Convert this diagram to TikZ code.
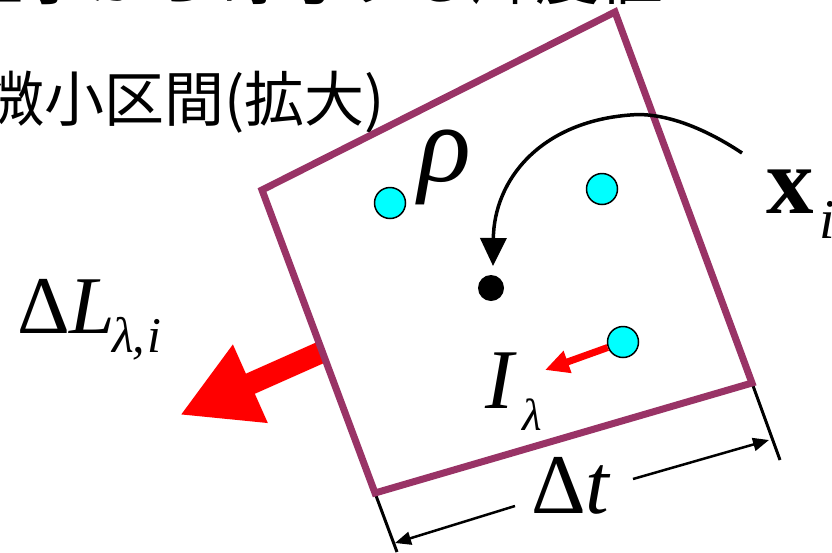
\documentclass[tikz,border=0pt]{standalone}
\usepackage{fontspec}
\setmainfont{Liberation Serif}
\newfontfamily\jfont{Noto Sans CJK JP}
\usetikzlibrary{arrows.meta}
\definecolor{boxpurple}{RGB}{153,51,102}
\definecolor{dotcyan}{RGB}{0,255,255}
\begin{document}
\begin{tikzpicture}[x=1pt,y=-1pt,
  cdot/.style={circle,draw=black,line width=1.5pt,fill=dotcyan,minimum size=31pt,inner sep=0pt},
  bdot/.style={circle,fill=black,minimum size=26pt,inner sep=0pt},
  boxline/.style={draw=boxpurple,line width=7pt,line join=miter},
  extline/.style={draw=black,line width=3pt},
  dimarrow/.style={draw=black,line width=2.5pt,-{Triangle[length=16pt,width=13pt]}},
  lbl/.style={inner sep=0pt,anchor=base west},
]
\useasboundingbox (0,0) rectangle (832,552);
\clip (0,0) rectangle (832,552);

% clipped title and subtitle
\node[lbl] (title) at (-41,-1) {\jfont\fontsize{64}{64}\selectfont 粒子から寄与する輝度値};
\node[lbl] (sub) at (-16,121) {\jfont\fontsize{60}{60}\selectfont 微小区間(拡大)};

% big red outgoing arrow
\coordinate (rs) at (324,351);
\coordinate (rt) at (180,415);
\draw[red, line width=22pt, -{Triangle[length=77pt,width=80pt]}] (rs) -- (rt);

% extension lines
\coordinate (A) at (615,12);
\coordinate (B) at (262,190);
\coordinate (C) at (375,493);
\coordinate (D) at (752,383);
\coordinate (C2) at (397,552);
\coordinate (D2) at (780,460);
\draw[extline] (C) -- (C2);
\draw[extline] (D) -- (D2);

% box
\draw[boxline] (A) -- (B) -- (C) -- (D) -- cycle;

% particles
\node[cdot] (p1) at (390,203) {};
\node[cdot] (p2) at (602,189) {};
\node[cdot] (p3) at (623,342) {};
\node[bdot] (c) at (491,288) {};

% curved arrow from x_i
\coordinate (xs) at (742,153);
\coordinate (pk) at (630,115);
\coordinate (ct) at (493,266);
\draw[line width=3.5pt, -{Triangle[length=28pt,width=26pt]}] (xs) .. controls (700,125) and (660,112) .. (pk) .. controls (540,122) and (494,180) .. (ct);

% small red arrow
\coordinate (ia) at (545,370);
\draw[red, line width=7pt, -{Triangle[length=24pt,width=22pt]}] (p3) -- (ia);

% dimension arrows
\coordinate (l1) at (515,506);
\coordinate (l2) at (395,543);
\coordinate (r1) at (633,479);
\coordinate (r2) at (769,440);
\draw[dimarrow] (l1) -- (l2);
\draw[dimarrow] (r1) -- (r2);

% labels
\node[lbl] (rho) at (418,181) {\fontsize{110}{110}\selectfont\itshape ρ};
\node[lbl] (xi) at (766,213) {\fontsize{95}{95}\selectfont\bfseries x};
\node[lbl] (xisub) at (819,238) {\fontsize{56}{56}\selectfont\itshape i};
\node[lbl] (I) at (485,408) {\fontsize{85}{85}\selectfont\itshape I};
\node[lbl] (Isub) at (522,430) {\fontsize{45}{45}\selectfont\itshape λ};
\node[lbl] (dL) at (17,333) {\fontsize{82}{82}\selectfont Δ\textit{L}};
\node[lbl] (dLsub) at (112,352) {\fontsize{50}{50}\selectfont\itshape λ\kern-1pt,\kern2pt i};
\node[lbl] (dt) at (531,513) {\fontsize{85}{85}\selectfont Δ\textit{t}};
\end{tikzpicture}
\end{document}
